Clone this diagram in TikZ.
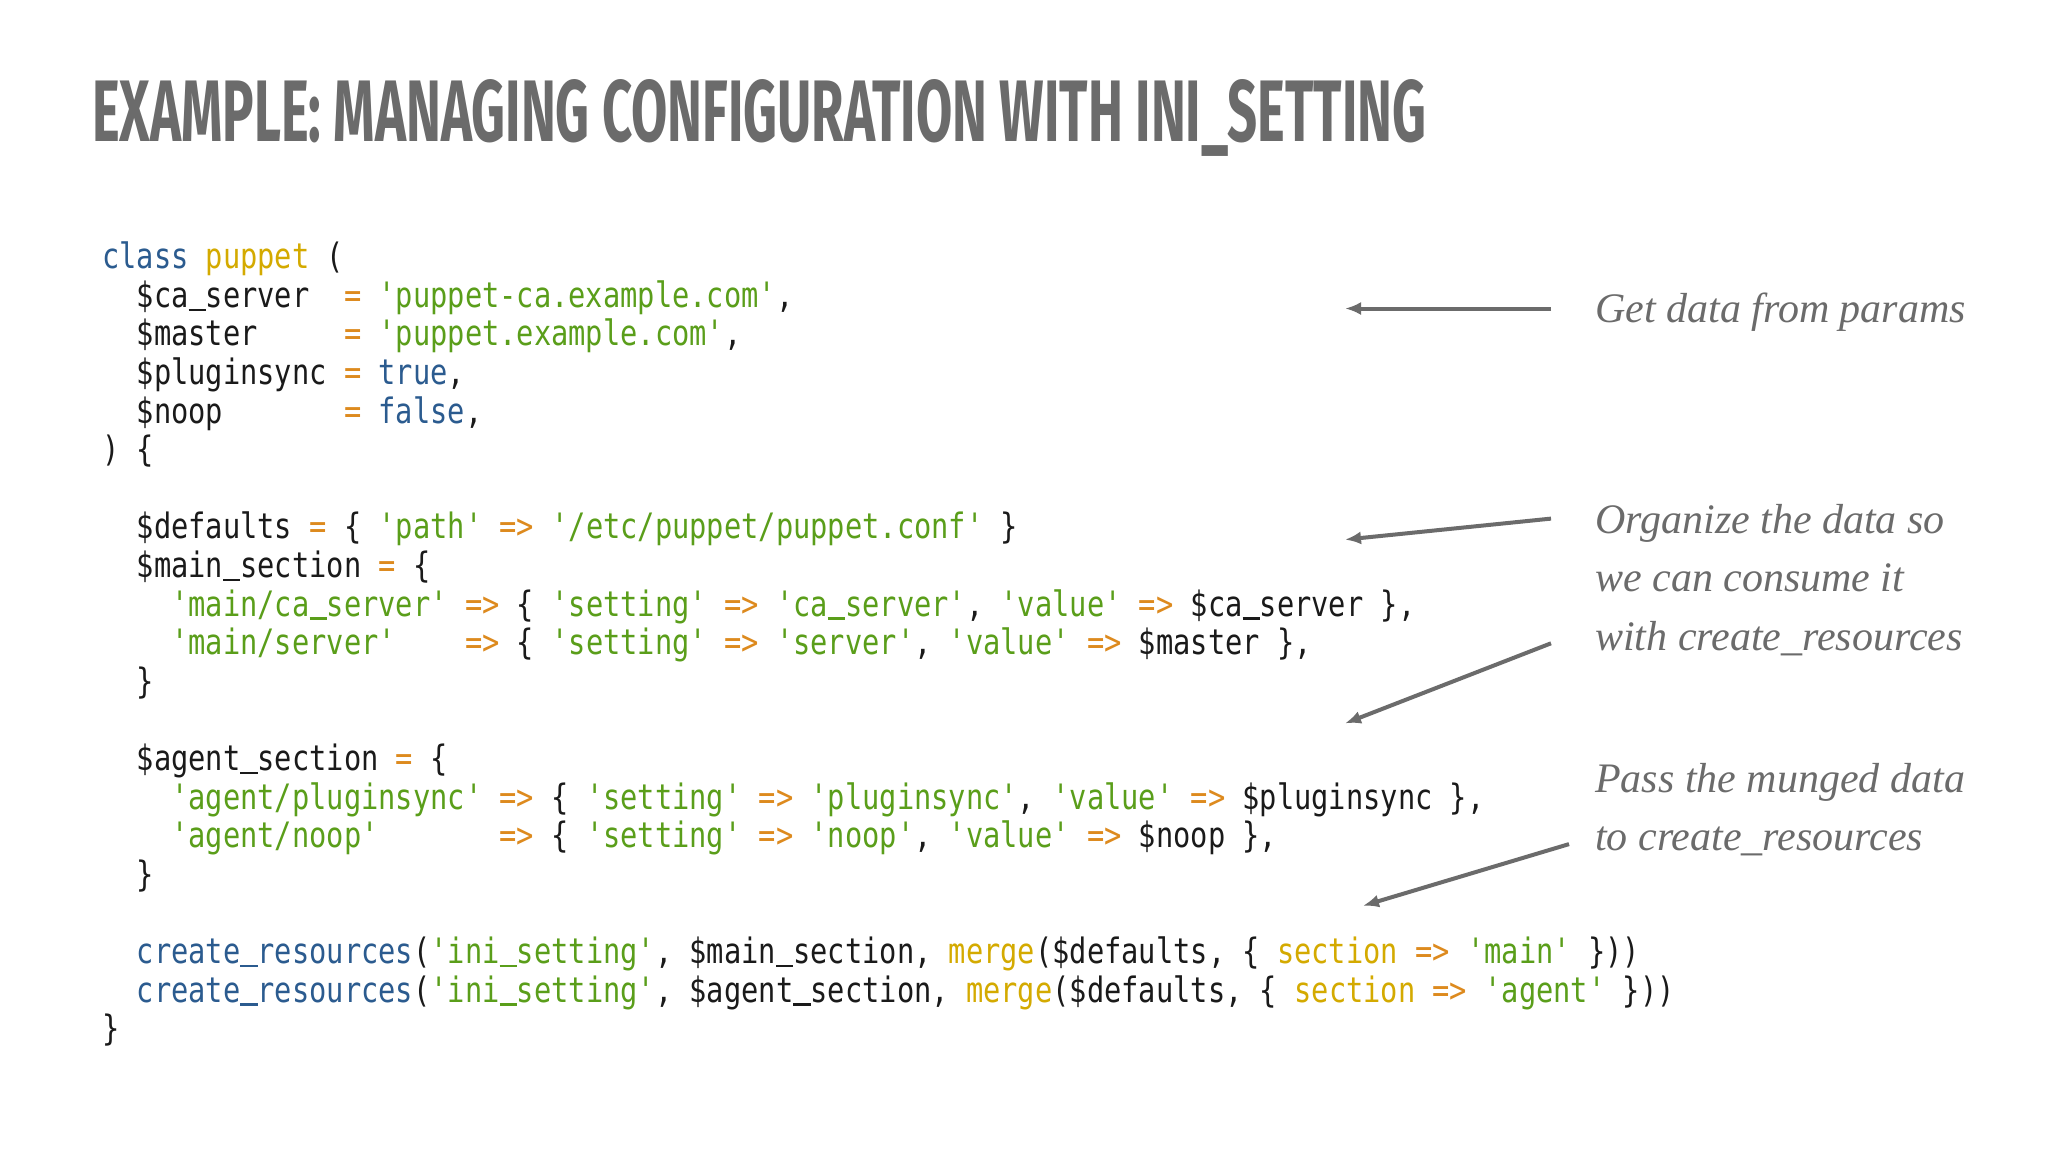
\documentclass[tikz,border=0pt]{standalone}
\usepackage{fontspec}
\usepackage{graphicx}
\newfontfamily\codef{DejaVu Sans Mono}[FakeStretch=0.82,Ligatures=NoCommon]
\newfontfamily\titlef{Fira Sans}[FakeStretch=0.7]
\setmainfont{Liberation Serif}
\definecolor{kwc}{HTML}{2B5B8F}
\definecolor{ylc}{HTML}{D4AA00}
\definecolor{stc}{HTML}{5A9E1A}
\definecolor{opc}{HTML}{DD8A1E}
\definecolor{txc}{HTML}{1A1A1A}
\definecolor{grc}{HTML}{6B6B6B}
\newcommand\kw[1]{\textcolor{kwc}{#1}}
\newcommand\yl[1]{\textcolor{ylc}{#1}}
\newcommand\st[1]{\textcolor{stc}{\char"0027#1\char"0027}}
\newcommand\op[1]{\textcolor{opc}{#1}}
\newcommand\ar{\op{=>}}
\newcommand\us{\makebox[0pt][l]{\rule[-4pt]{0.49em}{2.6pt}}\phantom{a}}
\begin{document}
\begin{tikzpicture}[x=1pt,y=-1pt,
  codeline/.style={anchor=base west,inner sep=0pt,font=\codef\fontsize{35}{38}\selectfont,text=txc},
  note/.style={anchor=base west,inner sep=0pt,font=\itshape\fontsize{42}{46}\selectfont,text=grc},
  pointer/.style={-{Latex[length=16pt,width=13pt]},draw=grc,line width=4pt}]
\usetikzlibrary{arrows.meta}
\useasboundingbox[fill=white] (0,0) rectangle (2048,1152);
\node[anchor=west,inner sep=0pt,text=grc] (title) at (92,118) {\resizebox{1334pt}{62pt}{\titlef\bfseries EXAMPLE: MANAGING CONFIGURATION WITH INI\_SETTING}};
\def\lx{102}
\def\ly#1{\fpeval{258.6+38.6*#1+10}}
\node[codeline] (l0) at (\lx,\ly{0}) {\kw{class}~\yl{puppet}~(};
\node[codeline] (l1) at (\lx,\ly{1}) {~~\$ca\us server~~\op{=}~\st{puppet-ca.example.com},};
\node[codeline] (l2) at (\lx,\ly{2}) {~~\$master~~~~~\op{=}~\st{puppet.example.com},};
\node[codeline] (l3) at (\lx,\ly{3}) {~~\$pluginsync~\op{=}~\kw{true},};
\node[codeline] (l4) at (\lx,\ly{4}) {~~\$noop~~~~~~~\op{=}~\kw{false},};
\node[codeline] (l5) at (\lx,\ly{5}) {)~\{};
\node[codeline] (l7) at (\lx,\ly{7}) {~~\$defaults~\op{=}~\{~\st{path}~\ar~\st{/etc/puppet/puppet.conf}~\}};
\node[codeline] (l8) at (\lx,\ly{8}) {~~\$main\us section~\op{=}~\{};
\node[codeline] (l9) at (\lx,\ly{9}) {~~~~\st{main/ca\us server}~\ar~\{~\st{setting}~\ar~\st{ca\us server},~\st{value}~\ar~\$ca\us server~\},};
\node[codeline] (l10) at (\lx,\ly{10}) {~~~~\st{main/server}~~~~\ar~\{~\st{setting}~\ar~\st{server},~\st{value}~\ar~\$master~\},};
\node[codeline] (l11) at (\lx,\ly{11}) {~~\}};
\node[codeline] (l13) at (\lx,\ly{13}) {~~\$agent\us section~\op{=}~\{};
\node[codeline] (l14) at (\lx,\ly{14}) {~~~~\st{agent/pluginsync}~\ar~\{~\st{setting}~\ar~\st{pluginsync},~\st{value}~\ar~\$pluginsync~\},};
\node[codeline] (l15) at (\lx,\ly{15}) {~~~~\st{agent/noop}~~~~~~~\ar~\{~\st{setting}~\ar~\st{noop},~\st{value}~\ar~\$noop~\},};
\node[codeline] (l16) at (\lx,\ly{16}) {~~\}};
\node[codeline] (l18) at (\lx,\ly{18}) {~~\kw{create\us resources}(\st{ini\us setting},~\$main\us section,~\yl{merge}(\$defaults,~\{~\yl{section}~\ar~\st{main}~\}))};
\node[codeline] (l19) at (\lx,\ly{19}) {~~\kw{create\us resources}(\st{ini\us setting},~\$agent\us section,~\yl{merge}(\$defaults,~\{~\yl{section}~\ar~\st{agent}~\}))};
\node[codeline] (l20) at (\lx,\ly{20}) {\}};
\node[note] (n1) at (1595,322) {Get data from params};
\node[note] (n2) at (1595,533) {Organize the data so};
\node[note] (n3) at (1595,591) {we can consume it};
\node[note] (n4) at (1595,650) {with create\_resources};
\node[note] (n5) at (1595,792) {Pass the munged data};
\node[note] (n6) at (1595,850) {to create\_resources};
\coordinate (s1) at (1551,308.5); \coordinate (e1) at (1345,308.5);
\coordinate (s2) at (1551,518.6); \coordinate (e2) at (1345,539.6);
\coordinate (s3) at (1551,643.3); \coordinate (e3) at (1345,723.4);
\coordinate (s4) at (1569,844.1); \coordinate (e4) at (1363,905.8);
\draw[pointer] (s1) -- (e1);
\draw[pointer] (s2) -- (e2);
\draw[pointer] (s3) -- (e3);
\draw[pointer] (s4) -- (e4);
\end{tikzpicture}
\end{document}
